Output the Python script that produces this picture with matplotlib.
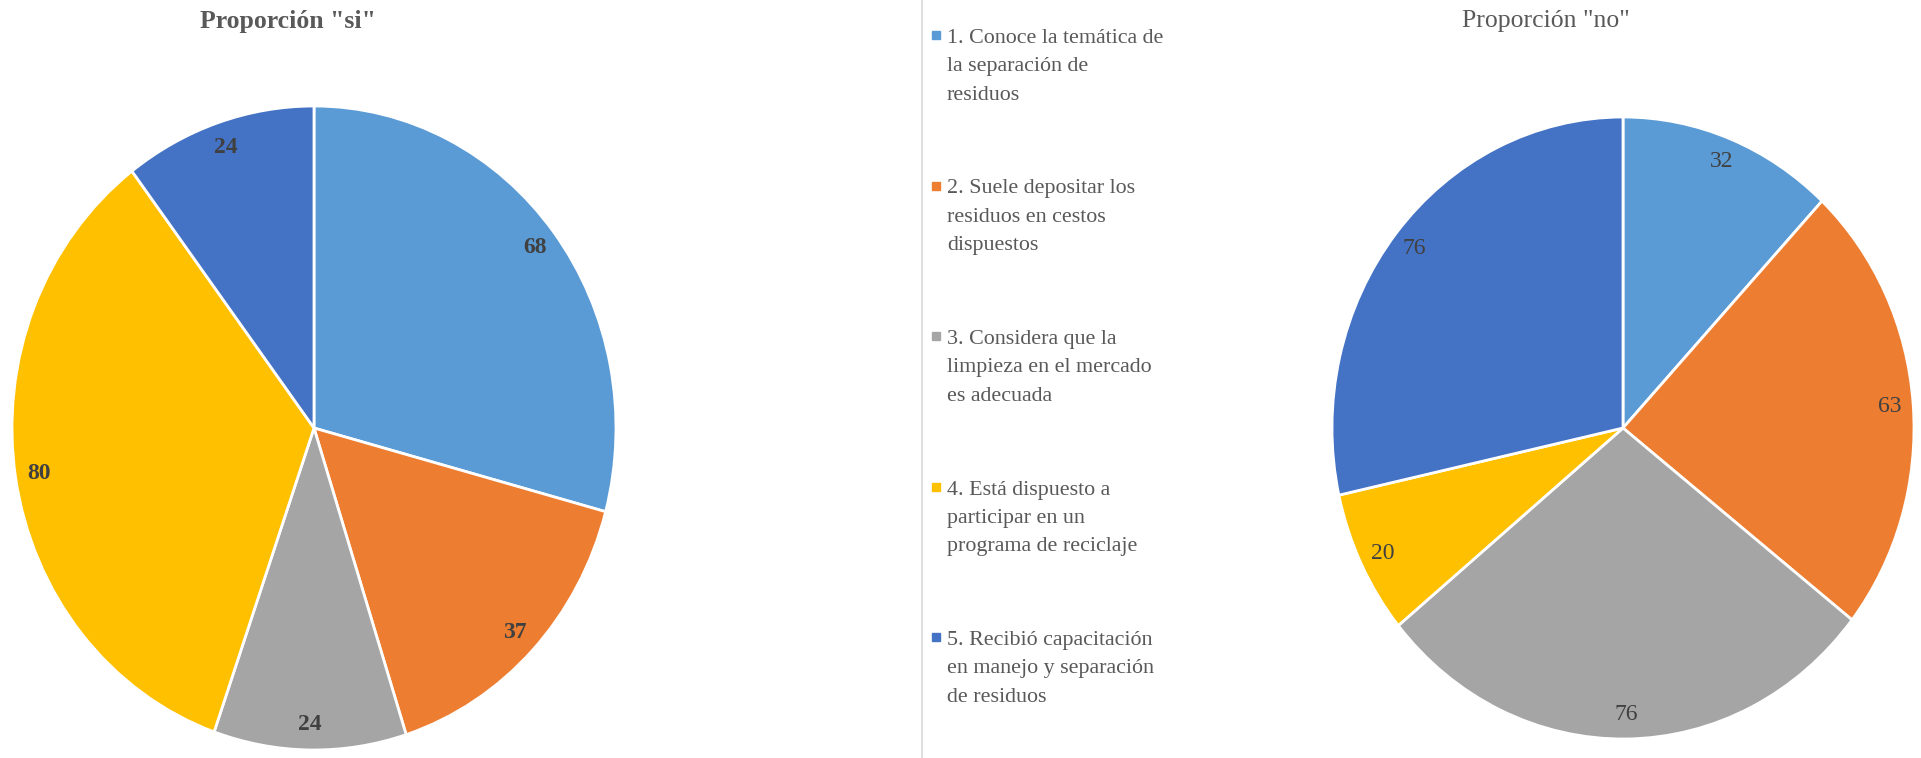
import numpy as np
import matplotlib
matplotlib.use("Agg")
from matplotlib import pyplot as plt
from matplotlib.patches import Rectangle

plt.rcParams["font.family"] = ["Liberation Serif", "DejaVu Serif"]

# data
items = ["1. Conoce la temática de\nla separación de\nresiduos",
         "2. Suele depositar los\nresiduos en cestos\ndispuestos",
         "3. Considera que la\nlimpieza en el mercado\nes adecuada",
         "4. Está dispuesto a\nparticipar en un\nprograma de reciclaje",
         "5. Recibió capacitación\nen manejo y separación\nde residuos"]
si = [68, 37, 24, 80, 24]
no = [32, 63, 76, 20, 76]
colors = ["#5B9BD5", "#ED7D31", "#A5A5A5", "#FFC000", "#4472C4"]

W, H = 1921, 758
fig = plt.figure(figsize=(W / 100, H / 100), dpi=100)

# overlay axes in pixel coords for titles / legend
lax = fig.add_axes([0, 0, 1, 1])
lax.set_xlim(0, W)
lax.set_ylim(H, 0)
lax.axis("off")


def pie_axes(cx, cy, rx, ry):
    return fig.add_axes([(cx - rx) / W, (H - cy - ry) / H, 2 * rx / W, 2 * ry / H])


def draw_pie(ax, vals, bold):
    tot = sum(vals)
    ax.pie(vals, colors=colors, startangle=90, counterclock=False,
           autopct=lambda p: "%d" % round(p * tot / 100), pctdistance=0.92,
           wedgeprops=dict(edgecolor="white", linewidth=2),
           textprops=dict(color="#404040", fontsize=17,
                          fontweight="bold" if bold else "normal"))
    ax.set_aspect("auto")
    ax.set_xlim(-1, 1)
    ax.set_ylim(-1, 1)


ax1 = pie_axes(314, 428, 302, 322)
draw_pie(ax1, si, True)
ax2 = pie_axes(1623, 428, 291, 311)
draw_pie(ax2, no, False)

lax.text(288, 28, 'Proporción "si"', ha="center", va="baseline",
         fontsize=18.5, fontweight="bold", color="#595959")
lax.text(1546, 27, 'Proporción "no"', ha="center", va="baseline",
         fontsize=18.5, color="#595959")

# separator
lax.plot([921.5, 921.5], [0, H], color="#D9D9D9", lw=1.2)

# legend (marker sits on the first line of each entry)
for i, (lab, c) in enumerate(zip(items, colors)):
    yb = 43 + i * 150.5
    lax.add_patch(Rectangle((932, yb - 12), 8, 8, color=c))
    for j, line in enumerate(lab.split("\n")):
        lax.text(947, yb + j * 28.3, line, ha="left", va="baseline",
                 fontsize=15.8, color="#595959")

fig.savefig("out.png", dpi=100)
